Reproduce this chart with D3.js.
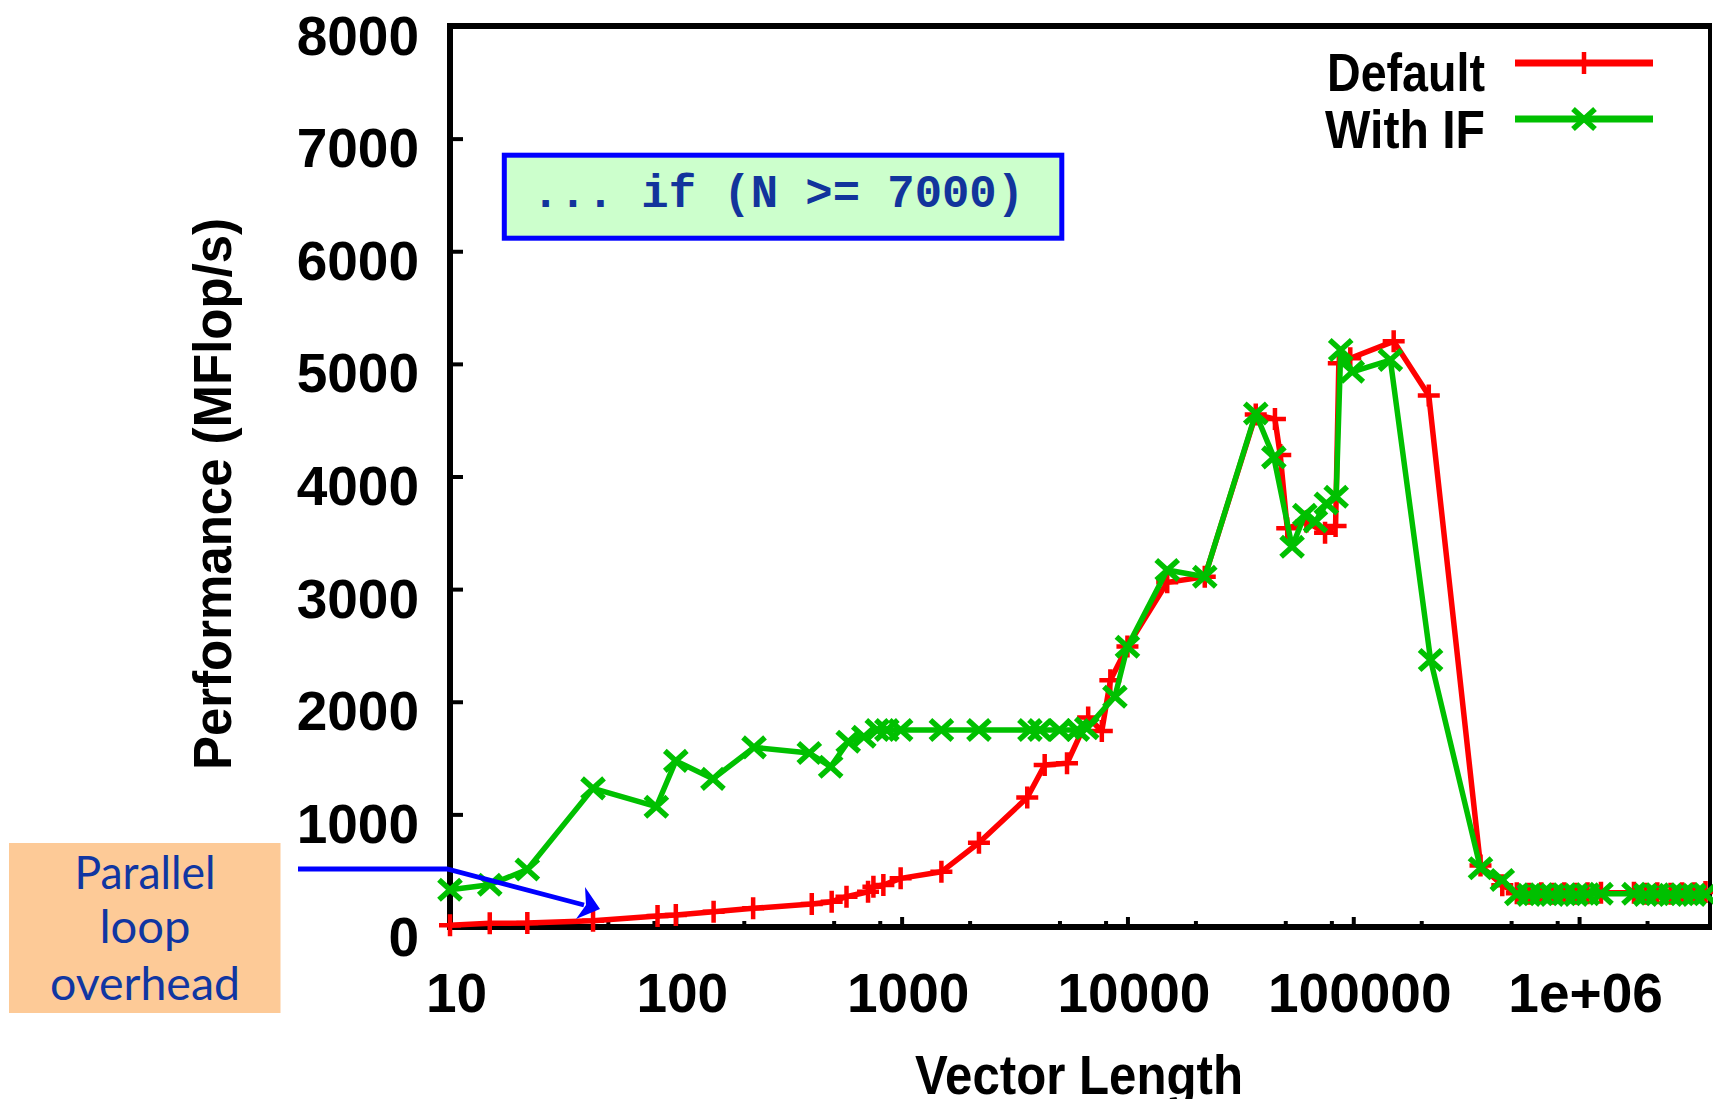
<!DOCTYPE html>
<html>
<head>
<meta charset="utf-8">
<script src="https://cdn.jsdelivr.net/npm/d3@7"></script>
<style>
  html, body { margin: 0; padding: 0; background: #ffffff; }
  svg { display: block; }
</style>
</head>
<body>
<svg id="chart" width="1713" height="1099"></svg>
<script>
// ---------------- DATA ----------------
const nDefault = [10, 15, 22, 43, 83, 100, 147, 220, 400, 490, 570, 710, 750, 830, 990, 1500, 2200,
  3600, 4300, 5400, 6700, 7700, 8400, 10000, 15000, 22000, 37000, 45000, 47500, 51000, 62000, 75000,
  83500, 86300, 97000, 151000, 216000, 366000, 457000, 530000, 600000, 680000, 760000, 860000, 970000,
  1090000, 1250000, 1750000, 1970000, 2220000, 2540000, 2860000, 3230000, 3630000];
const perfDefault = [15, 33, 35, 56, 98, 107, 136, 166, 204, 225, 269, 313, 358, 373, 432, 490, 748,
  1150, 1438, 1453, 1860, 1740, 2190, 2490, 3060, 3110, 4550, 4510, 4190, 3540, 3600, 3500,
  3560, 5005, 5050, 5200, 4720, 545, 370, 300, 295, 300, 295, 300, 295,
  300, 305, 305, 295, 300, 295, 300, 300, 310];

const nWithIF = [10, 15, 22, 43, 82, 100, 146, 222, 390, 485, 580, 680, 780, 860, 990, 1500, 2200,
  3700, 4100, 5000, 6000, 6600, 8800, 10000, 15000, 22000, 37000, 44500, 53600, 61000, 68000, 76000,
  84000, 88000, 99000, 146000, 220000, 366000, 457000, 530000, 600000, 680000, 760000, 860000, 970000,
  1090000, 1250000, 1750000, 1970000, 2220000, 2540000, 2860000, 3230000, 3630000];
const perfWithIF = [330, 375, 510, 1231, 1068, 1475, 1315, 1595, 1545, 1423, 1645, 1690, 1749, 1749, 1749, 1749, 1749,
  1749, 1749, 1749, 1749, 1765, 2045, 2489, 3170, 3110, 4560, 4170, 3376, 3660, 3600, 3760,
  3820, 5123, 4930, 5034, 2371, 521, 417, 290, 285, 290, 285, 290, 285,
  290, 295, 295, 285, 290, 285, 290, 285, 290];

const seriesNames = ["Default", "With IF"];
const yTickValues = [0, 1000, 2000, 3000, 4000, 5000, 6000, 7000, 8000];
const xTickValues = [10, 100, 1000, 10000, 100000, 1000000];
const xTickLabels = ["10", "100", "1000", "10000", "100000", "1e+06"];
const xMinorTicks = [20, 50, 80, 200, 500, 800, 2000, 5000, 8000, 20000, 50000, 80000,
  200000, 500000, 800000, 2000000];
const yTitle = "Performance (MFlop/s)";
const xTitle = "Vector Length";
const codeNote = "... if (N >= 7000)";
const overheadNote = ["Parallel", "loop", "overhead"];

// ---------------- LAYOUT ----------------
const svg = d3.select("#chart");
svg.append("rect").attr("width", 1713).attr("height", 1099).attr("fill", "#fff");

const x = d3.scaleLog().domain([10, 3.8e6]).range([450, 1710]);
const y = d3.scaleLinear().domain([0, 8000]).range([927, 26]);

const FONT = "'Liberation Sans', Arial, Helvetica, sans-serif";
const RED = "#ff0000", GREEN = "#00c000";

// y axis
const yAxis = d3.axisLeft(y).tickValues(yTickValues).tickSizeInner(-13).tickSizeOuter(0).tickPadding(31)
  .tickFormat(d3.format("d"));
const gy = svg.append("g").attr("transform", `translate(${x.range()[0]},0)`).call(yAxis);
gy.select(".domain").remove();
gy.selectAll(".tick line").attr("stroke", "#000").attr("stroke-width", 4);
gy.selectAll(".tick text").attr("fill", "#000").attr("font-family", FONT).attr("font-weight", "bold")
  .attr("font-size", 55).attr("dy", 28);

// x axis major
const xAxis = d3.axisBottom(x).tickValues(xTickValues).tickSizeInner(-10).tickSizeOuter(0)
  .tickFormat((d, i) => xTickLabels[i]);
const gx = svg.append("g").attr("transform", `translate(0,${y.range()[0]})`).call(xAxis);
gx.select(".domain").remove();
gx.selectAll(".tick line").attr("stroke", "#000").attr("stroke-width", 4);
gx.selectAll(".tick text").attr("fill", "#000").attr("font-family", FONT).attr("font-weight", "bold")
  .attr("font-size", 55).attr("y", 85).attr("dy", 0).attr("dx", 6);

// x axis minor
const xMinor = d3.axisBottom(x).tickValues(xMinorTicks).tickSizeInner(-6).tickSizeOuter(0).tickFormat("");
const gxm = svg.append("g").attr("transform", `translate(0,${y.range()[0]})`).call(xMinor);
gxm.select(".domain").remove();
gxm.selectAll(".tick line").attr("stroke", "#000").attr("stroke-width", 4);

// border
const [x0, x1] = x.range();
const [yb, yt] = y.range();
const border = svg.append("g").attr("stroke", "#000").attr("fill", "none");
border.append("line").attr("x1", x0).attr("x2", x1 + 2).attr("y1", yt).attr("y2", yt).attr("stroke-width", 6);
border.append("line").attr("x1", x0).attr("x2", x1 + 2).attr("y1", yb).attr("y2", yb).attr("stroke-width", 6);
border.append("line").attr("x1", x0).attr("x2", x0).attr("y1", yt - 3).attr("y2", yb + 3).attr("stroke-width", 6);
border.append("line").attr("x1", x1).attr("x2", x1).attr("y1", yt - 3).attr("y2", yb + 3).attr("stroke-width", 4);

// axis titles
svg.append("text").attr("transform", `translate(231,494) rotate(-90)`)
  .attr("text-anchor", "middle").attr("font-family", FONT).attr("font-weight", "bold")
  .attr("font-size", 54).attr("textLength", 552).attr("lengthAdjust", "spacingAndGlyphs")
  .attr("fill", "#000").text(yTitle);
svg.append("text").attr("x", 1079).attr("y", 1094).attr("text-anchor", "middle")
  .attr("font-family", FONT).attr("font-weight", "bold").attr("font-size", 56)
  .attr("textLength", 328).attr("lengthAdjust", "spacingAndGlyphs").attr("fill", "#000").text(xTitle);

// ---------------- SERIES ----------------
const plusPath = "M-11,0H11M0,-11V11";
const crossPath = "M-11,-10L11,10M-11,10L11,-10";

function drawSeries(ns, vs, color, markPath, markWidth) {
  const pts = ns.map((n, i) => [n, vs[i]]);
  const line = d3.line().x(d => x(d[0])).y(d => y(d[1]));
  const g = svg.append("g");
  g.append("path").datum(pts).attr("d", line).attr("fill", "none").attr("stroke", color)
    .attr("stroke-width", 5.5).attr("stroke-linejoin", "round");
  g.selectAll("path.mk").data(pts).enter().append("path").attr("class", "mk")
    .attr("transform", d => `translate(${x(d[0])},${y(d[1])})`)
    .attr("d", markPath).attr("stroke", color).attr("stroke-width", markWidth).attr("fill", "none");
}
drawSeries(nDefault, perfDefault, RED, plusPath, 4.5);
drawSeries(nWithIF, perfWithIF, GREEN, crossPath, 5.5);

// ---------------- LEGEND ----------------
const legend = [
  { name: seriesNames[0], color: RED, mark: plusPath, mw: 4.5, ty: 91, ly: 63, tl: 158 },
  { name: seriesNames[1], color: GREEN, mark: crossPath, mw: 5.5, ty: 148, ly: 119, tl: 160 }
];
const lg = svg.append("g");
legend.forEach(l => {
  lg.append("text").attr("x", 1485).attr("y", l.ty).attr("text-anchor", "end")
    .attr("font-family", FONT).attr("font-weight", "bold").attr("font-size", 54)
    .attr("textLength", l.tl).attr("lengthAdjust", "spacingAndGlyphs").attr("fill", "#000").text(l.name);
  lg.append("line").attr("x1", 1515).attr("x2", 1653).attr("y1", l.ly).attr("y2", l.ly)
    .attr("stroke", l.color).attr("stroke-width", 7);
  lg.append("path").attr("transform", `translate(1584,${l.ly})`).attr("d", l.mark)
    .attr("stroke", l.color).attr("stroke-width", l.mw).attr("fill", "none");
});

// ---------------- ANNOTATIONS ----------------
// code note box
svg.append("rect").attr("x", 504.3).attr("y", 155.2).attr("width", 557.5).attr("height", 83)
  .attr("fill", "#ccffcc").attr("stroke", "#0000ff").attr("stroke-width", 5);
svg.append("text").attr("x", 532).attr("y", 207)
  .attr("font-family", "'Liberation Mono', 'Courier New', monospace").attr("font-weight", "bold")
  .attr("font-size", 46).attr("textLength", 492).attr("lengthAdjust", "spacingAndGlyphs")
  .attr("fill", "#12349c").style("white-space", "pre").text(codeNote);

// overhead box
svg.append("rect").attr("x", 9).attr("y", 843).attr("width", 271.5).attr("height", 170).attr("fill", "#fdca97");
const ovBase = [889, 943, 1000];
const ovLen = [141, 91, 190];
overheadNote.forEach((t, i) => {
  svg.append("text").attr("x", 145).attr("y", ovBase[i]).attr("text-anchor", "middle")
    .attr("font-family", "Lato, 'Open Sans', sans-serif").attr("font-size", 47)
    .attr("textLength", ovLen[i]).attr("lengthAdjust", "spacingAndGlyphs")
    .attr("fill", "#1036a2").text(t);
});

// arrow
svg.append("path").attr("d", "M298,869L447,869L584,905")
  .attr("fill", "none").attr("stroke", "#0000ff").attr("stroke-width", 4.8).attr("stroke-linejoin", "miter");
svg.append("path").attr("d", "M600,909L585,887L586,905L576,919Z").attr("fill", "#0000ff");
</script>
</body>
</html>
